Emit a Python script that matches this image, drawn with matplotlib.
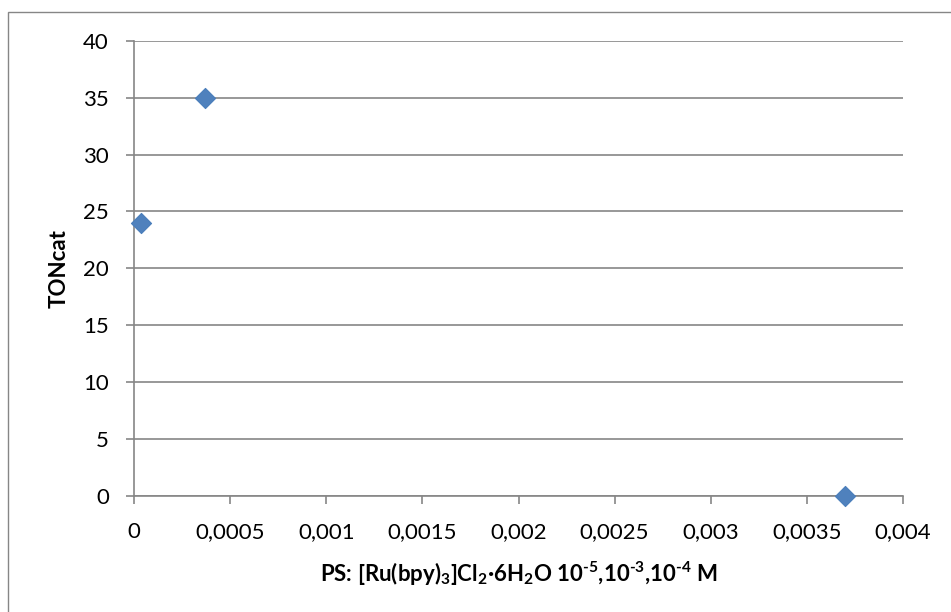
import matplotlib
matplotlib.use("Agg")
import matplotlib.pyplot as plt
from matplotlib.patches import Rectangle

# Photosensitiser concentration (M) vs. catalyst turnover number
ps_conc = [0.000037, 0.00037, 0.0037]
ton_cat = [24, 35, 0]

x_ticks = [0, 0.0005, 0.001, 0.0015, 0.002, 0.0025, 0.003, 0.0035, 0.004]
x_tick_labels = ["0", "0,0005", "0,001", "0,0015", "0,002", "0,0025", "0,003", "0,0035", "0,004"]
y_ticks = [0, 5, 10, 15, 20, 25, 30, 35, 40]

x_label = (r"PS: [Ru(bpy)$_{3}$]Cl$_{2}$·6H$_{2}$O "
           r"10$^{\text{-5}}$,10$^{\text{-3}}$,10$^{\text{-4}}$ M")
y_label = "TONcat"

plt.rcParams["font.family"] = ["Lato", "DejaVu Sans"]
plt.rcParams["mathtext.fontset"] = "custom"
plt.rcParams["mathtext.rm"] = "Lato:bold"
plt.rcParams["mathtext.bf"] = "Lato:bold"
plt.rcParams["mathtext.it"] = "Lato:bold"
plt.rcParams["mathtext.default"] = "rm"

W, H = 951, 612
fig = plt.figure(figsize=(W / 100, H / 100), dpi=100)

# chart-area frame
fig.patches.append(Rectangle((8 / W, -0.1), 1.2, 1 - 12 / H + 0.1, transform=fig.transFigure,
                             fill=False, edgecolor="#868686", linewidth=1.0))

ax = fig.add_axes([134 / W, 1 - 495.5 / H, (903 - 134) / W, (495.5 - 41) / H])
grid_c = "#868686"

ax.scatter(ps_conc, ton_cat, marker="D", s=105, color="#4F81BD",
           edgecolor="#4A7EBB", linewidth=0.8, zorder=3, clip_on=False)

ax.set_xlim(0, 0.004)
ax.set_ylim(0, 40)
ax.set_xticks(x_ticks)
ax.set_xticklabels(x_tick_labels)
ax.set_yticks(y_ticks)
ax.set_yticklabels([str(v) for v in y_ticks])

ax.grid(axis="y", color=grid_c, linewidth=1.2)
ax.set_axisbelow(True)
for side in ("top", "right"):
    ax.spines[side].set_visible(False)
for side in ("left", "bottom"):
    ax.spines[side].set_color(grid_c)
    ax.spines[side].set_linewidth(1.2)

ax.tick_params(axis="both", colors=grid_c, labelcolor="black", labelsize=16,
               length=6, width=1.2, direction="out")
ax.tick_params(axis="x", pad=13)
ax.tick_params(axis="y", pad=12)

ax.set_xlabel(x_label, fontsize=16, fontweight="bold", labelpad=13)
ax.set_ylabel(y_label, fontsize=16, fontweight="bold", labelpad=10)

fig.savefig("out.png", dpi=100)
